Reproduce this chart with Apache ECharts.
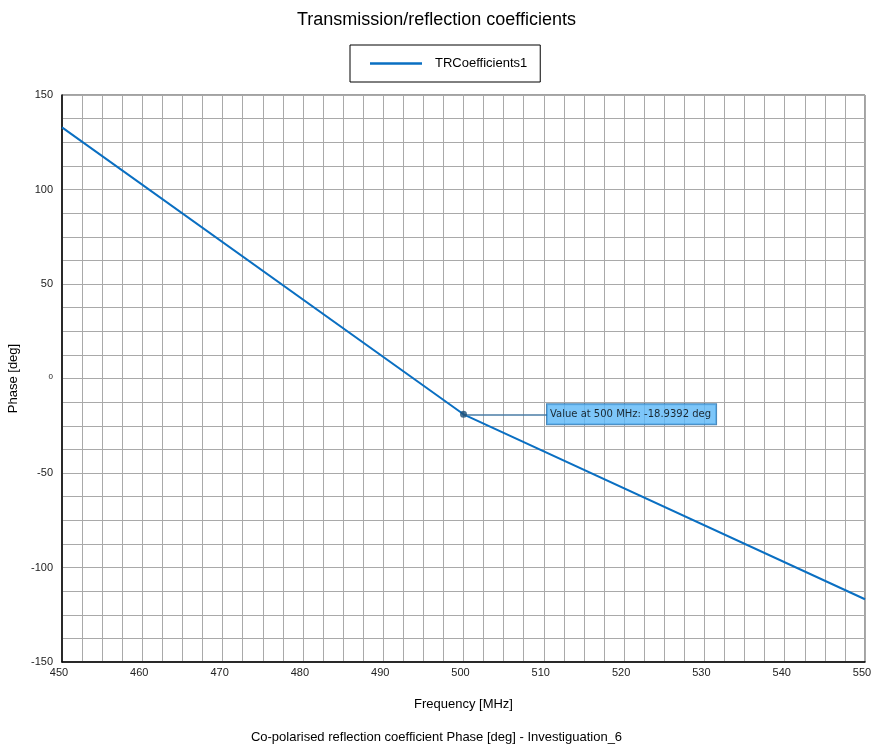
<!DOCTYPE html>
<html>
<head>
<meta charset="utf-8">
<script src="https://cdn.jsdelivr.net/npm/echarts@6/dist/echarts.min.js"></script>
<style>
  html, body { margin: 0; padding: 0; background: #ffffff; }
  #chart { width: 873px; height: 749px; }
</style>
</head>
<body>
<div id="chart"></div>
<script>
// 频率 (MHz) 与相位 (deg)
const freq = [450, 500, 550];
const phase = [132.9, -18.9392, -116.8];
const seriesName = 'TRCoefficients1';

// 标注点
const markFreq = 500;
const markPhase = -18.9392;
const markLineEnd = 510.5;
const markText = 'Value at 500 MHz: -18.9392 deg';

const yTicks = [-150, -100, -50, 0, 50, 100, 150];

const chart = echarts.init(document.getElementById('chart'));

const gridColor = '#a9a9a9';

const option = {
  backgroundColor: '#ffffff',
  animation: false,
  title: {
    text: 'Transmission/reflection coefficients',
    left: 'center',
    top: 6,
    textStyle: {
      fontFamily: 'Liberation Sans',
      fontSize: 18,
      fontWeight: 'normal',
      color: '#000000',
    },
  },
  legend: {
    top: 45,
    left: 350,
    padding: [11, 13, 11, 20],
    borderColor: '#000000',
    borderWidth: 1,
    icon: 'rect',
    itemWidth: 52,
    itemHeight: 2.5,
    itemGap: 10,
    textStyle: {
      fontFamily: 'Liberation Sans',
      fontSize: 13,
      color: '#000000',
      lineHeight: 15,
      padding: [0, 0, 0, 8],
    },
    data: [seriesName],
  },
  grid: {
    left: 62,
    right: 8,
    top: 95,
    bottom: 87,
    outerBoundsMode: 'none',
    containLabel: false,
    show: true,
    borderColor: '#444444',
    borderWidth: 1,
  },
  xAxis: {
    type: 'value',
    min: 450,
    max: 550,
    interval: 10,
    name: 'Frequency [MHz]',
    nameLocation: 'middle',
    nameGap: 36,
    nameTextStyle: {
      fontFamily: 'Liberation Sans',
      fontSize: 13,
      color: '#000000',
    },
    axisLine: { show: true, onZero: false, lineStyle: { color: '#000000', width: 1.5 } },
    axisTick: { show: false },
    axisLabel: {
      margin: 5,
      fontFamily: 'Liberation Sans',
      fontSize: 11,
      color: '#222222',
      padding: [0, 6, 0, 0],
    },
    splitLine: { show: true, lineStyle: { color: gridColor, width: 1 } },
    minorTick: { show: false, splitNumber: 4 },
    minorSplitLine: { show: true, lineStyle: { color: gridColor, width: 1 } },
  },
  yAxis: {
    type: 'value',
    min: yTicks[0],
    max: yTicks[yTicks.length - 1],
    interval: 50,
    name: 'Phase [deg]',
    nameLocation: 'middle',
    nameGap: 40,
    nameTextStyle: {
      fontFamily: 'Liberation Sans',
      fontSize: 13,
      color: '#000000',
    },
    axisLine: { show: true, onZero: false, lineStyle: { color: '#000000', width: 1.5 } },
    axisTick: { show: false },
    axisLabel: {
      margin: 9,
      fontFamily: 'Liberation Sans',
      fontSize: 11,
      color: '#222222',
      formatter: v => (v === 0 ? '{s|0}' : String(v)),
      rich: {
        s: { fontFamily: 'Liberation Sans', fontSize: 8, color: '#222222', padding: [0, 0, 4, 0] },
      },
    },
    splitLine: { show: true, lineStyle: { color: gridColor, width: 1 } },
    minorTick: { show: false, splitNumber: 4 },
    minorSplitLine: { show: true, lineStyle: { color: gridColor, width: 1 } },
  },
  series: [
    {
      name: seriesName,
      type: 'line',
      symbol: 'none',
      color: '#0a6fc2',
      lineStyle: { color: '#0a6fc2', width: 2 },
      data: freq.map((f, i) => [f, phase[i]]),
      z: 3,
    },
    {
      name: 'marker',
      type: 'scatter',
      symbol: 'circle',
      symbolSize: 7,
      itemStyle: { color: '#1b4f78' },
      data: [[markFreq, markPhase]],
      z: 5,
      label: {
        show: true,
        position: 'right',
        distance: 80,
        formatter: markText,
        fontFamily: 'DejaVu Sans',
        fontSize: 10,
        color: '#000000',
        backgroundColor: '#5cb8f7',
        borderColor: '#1f6aa8',
        borderWidth: 1,
        padding: [5, 5, 5, 3],
      },
      markLine: {
        silent: true,
        symbol: 'none',
        label: { show: false },
        lineStyle: { color: '#4a7da6', width: 1.5, type: 'solid' },
        data: [[{ coord: [markFreq, markPhase] }, { coord: [markLineEnd, markPhase] }]],
      },
    },
  ],
  graphic: [
    {
      type: 'text',
      left: 'center',
      top: 731,
      style: {
        text: 'Co-polarised reflection coefficient Phase [deg] - Investiguation_6',
        fontFamily: 'Liberation Sans',
        fontSize: 13,
        fill: '#000000',
      },
    },
  ],
};

chart.setOption(option);
</script>
</body>
</html>
